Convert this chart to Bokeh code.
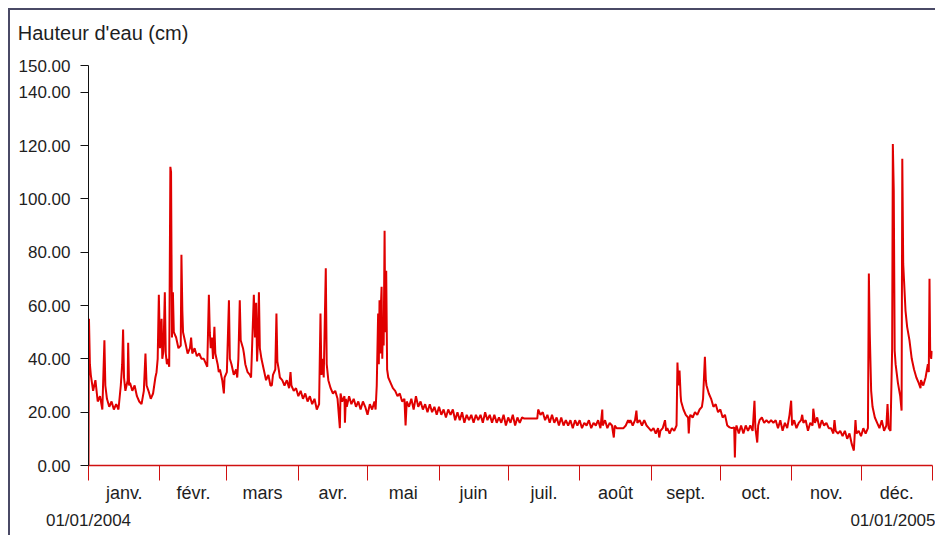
from bokeh.plotting import figure
from bokeh.models import FixedTicker, LinearAxis, Range1d, PrintfTickFormatter
from bokeh.embed import file_html
from bokeh.resources import INLINE

# ---- data (day of year 2004, water height in cm) ----
jan_day = [0, 0.2, 0.6, 1, 2, 3, 4, 5, 6, 6.9, 7.3, 8, 9, 10, 11, 12, 13, 14, 14.6, 15, 15.4, 16, 17, 17.2, 17.6,
           18, 19, 20, 21, 22, 23, 24, 24.7, 25.2, 26, 27, 28, 29, 29.5, 30]
jan_lvl = [0, 55, 38, 34, 28, 32, 24, 26, 21, 47, 30, 25, 22, 24, 21, 23, 21, 30, 38, 51, 33, 28, 32, 46, 30,
           31, 28, 30, 26, 24, 23, 28, 42, 30, 28, 25, 27, 33, 35, 40]

feb_day = [30.5, 31, 31.7, 32, 32.5, 33.1, 33.5, 34, 34.5, 35, 35.5, 35.8, 36.2, 36.6, 37, 38, 39, 40, 40.3, 40.7,
           41, 42, 43, 44, 44.5, 45, 46, 47, 48, 49, 50, 51, 51.5, 52.2, 52.6, 53, 53.5, 54, 54.6, 55,
           56, 56.5, 57, 58, 58.7, 59, 60]
feb_lvl = [64, 44, 55, 40, 43, 65, 42, 38, 40, 37, 112, 110, 48, 65, 50, 48, 44, 45, 79, 58,
           50, 46, 42, 44, 48, 42, 44, 41, 42, 40, 40, 38, 37, 64, 50, 44, 48, 40, 52, 42,
           38, 35, 36, 32, 27, 33, 35]

mar_day = [60.9, 61.3, 62, 63, 64, 64.5, 65, 65.6, 66, 67, 67.4, 68, 69, 70, 70.5, 71, 71.7, 72.2, 72.7, 73.1,
           73.5, 73.9, 74.3, 75, 76, 77, 78, 78.9, 79.5, 80, 81, 81.5, 81.9, 82.5, 83, 84, 85, 86, 87, 87.6,
           88, 89, 90, 91]
mar_lvl = [62, 40, 38, 34, 36, 33, 40, 62, 47, 44, 42, 38, 35, 34, 33, 46, 64, 48, 61, 39,
           47, 65, 44, 40, 36, 32, 34, 30, 30, 34, 36, 57, 39, 36, 33, 32, 30, 32, 29, 35,
           30, 28, 29, 26]

apr_day = [92, 93, 94, 95, 96, 97, 98, 99, 100, 100.6, 101, 101.5, 102, 102.9, 103.3, 104, 105, 106, 107, 108,
           109, 109.3, 110, 111, 111.2, 111.6, 112, 113, 114, 115, 116, 117, 118, 119, 120, 121]
apr_lvl = [28, 25, 27, 24, 26, 23, 25, 21, 23, 57, 34, 40, 33, 74, 38, 32, 29, 27, 28, 25,
           14, 27, 24, 26, 16, 25, 22, 26, 23, 25, 22, 24, 21, 24, 22, 19]

may_day = [122, 123, 124, 124.5, 125, 125.6, 125.9, 126.2, 126.5, 126.8, 127.1, 127.4, 127.7, 128, 128.4,
           128.7, 129.1, 129.5, 130, 131, 132, 133, 134, 135, 136, 137, 137.5]
may_lvl = [23, 21, 24, 21, 30, 57, 38, 62, 42, 60, 67, 40, 55, 45, 88,
           50, 73, 36, 33, 31, 29, 28, 26, 27, 24, 25, 15]

summer_day = [138, 139, 140, 141, 142, 143, 144, 145, 146, 147, 148, 149, 150, 151, 152, 153, 154, 155, 156, 157,
              158, 159, 160, 161, 162, 163, 164, 165, 166, 167, 168, 169, 170, 171, 172, 173, 174, 175, 176, 177,
              178, 179, 180, 181, 182, 183, 184, 185, 186, 187, 188, 189, 194.6]
summer_lvl = [24, 22, 25, 21, 26, 22, 24, 21, 23, 20, 23, 20, 22, 19, 22, 19, 21, 18, 21, 19,
              21, 17, 20, 17, 20, 16, 19, 17, 19, 16, 19, 17, 19, 16, 20, 17, 19, 16, 19, 16,
              18, 16, 19, 15, 18, 16, 19, 15, 18, 16, 18, 17.6, 17.6]

aug_day = [195, 196, 197, 198, 199, 200, 201, 202, 203, 204, 205, 206, 207, 208, 209, 210, 211, 212, 213, 214,
           215, 216, 217, 218, 219, 220, 221, 222, 222.8, 223, 224, 225, 226, 227, 227.8, 228.2, 229, 230, 231,
           232, 233, 234, 234.5, 235, 236, 237, 237.6, 238, 239, 240, 241, 242, 243, 244, 245, 246, 247, 247.5,
           248, 249, 250, 250.5, 251, 252, 253, 254, 255]
aug_lvl = [21, 19, 20, 17, 19, 16, 19, 16, 18, 15, 18, 15, 17, 15, 17, 14, 17, 15, 17, 14,
           16, 15, 17, 14, 16, 15, 17, 14, 21, 15, 17, 14, 16, 15, 10.5, 15, 14, 14, 14,
           14, 15, 17, 16, 17, 15, 17, 20.6, 16, 17, 15, 17, 15, 14, 13, 14, 12, 14, 10.5,
           13, 14, 17, 13, 14, 12, 14, 13, 15]

sep_day = [255.4, 255.8, 256.3, 256.8, 257, 258, 259, 260, 260.3, 260.7, 261, 262, 263, 264, 265, 266, 266.5,
           267.3, 267.7, 268, 269, 270, 271, 272, 273, 274, 275, 276, 277, 278, 279, 280, 280.3, 280.6, 281,
           282, 283, 284, 285, 286, 287, 288, 288.8, 289.2, 290, 290.4]
sep_lvl = [38.6, 30, 35.6, 26, 24, 21, 19, 18, 12, 18, 19, 18, 20, 19, 21, 22, 25,
           40.8, 32, 30, 27, 25, 22, 23, 20, 21, 18, 19, 15, 14.3, 14, 14.3, 3, 13, 15,
           12, 15, 12, 15, 13, 15, 13, 24.3, 14, 8.6, 15]

nov_day = [291, 292, 293, 294, 295, 296, 297, 298, 299, 300, 301, 302, 303, 304, 304.7, 305.1, 306, 307, 308,
           309, 309.5, 310, 311, 312, 313, 314, 314.3, 314.8, 315, 316, 317, 318, 319, 320, 321, 322, 323,
           323.5, 324, 325, 326, 327, 328, 329, 330, 331, 331.9, 332.6, 333, 334, 335, 336, 337, 338]
nov_lvl = [17, 18, 16, 17, 16, 17, 16, 17, 14, 17, 13, 16, 14, 19, 24.3, 15, 17, 14, 16,
           17, 19, 16, 17, 13, 16, 15, 21.3, 18, 16, 18, 14, 17, 15, 16, 14, 14, 12,
           17, 13, 12, 13, 11, 13, 10, 12, 8, 5.6, 17, 12, 13, 11, 14, 12, 14]

dec_day = [338.4, 338.8, 339.4, 340, 341, 342, 343, 344, 345, 346, 346.5, 347, 347.8, 348.5, 348.8, 349.2,
           349.6, 350, 351, 352, 352.6, 352.9, 353.3, 354.3, 355, 356, 357, 358, 359, 360, 360.8, 361, 362,
           363, 364, 364.4, 364.7, 365, 365.5, 365.9]
dec_lvl = [72, 49.5, 28, 22, 18, 16, 14, 17, 13, 15, 23, 14, 13, 44, 120.6, 103,
           43, 38, 31, 26, 20.6, 115, 75.6, 58, 52, 47, 40, 36, 33, 31, 29, 32, 30,
           33, 38, 35, 70, 42, 40, 43]

month_bounds = [0, 31, 60, 91, 121, 152, 182, 213, 244, 274, 305, 335, 366]
month_names = ["janv.", "févr.", "mars", "avr.", "mai", "juin", "juil.", "août", "sept.", "oct.", "nov.", "déc."]
y_ticks = [0, 20, 40, 60, 80, 100, 120, 140, 150]
start_label = "01/01/2004"
end_label = "01/01/2005"
title_text = "Hauteur d'eau (cm)"

day = jan_day + feb_day + mar_day + apr_day + may_day + summer_day + aug_day + sep_day + nov_day + dec_day
level = jan_lvl + feb_lvl + mar_lvl + apr_lvl + may_lvl + summer_lvl + aug_lvl + sep_lvl + nov_lvl + dec_lvl
assert len(day) == len(level)

FONT = "Liberation Sans"
TXT = "#1e1e1e"

p = figure(width=927, height=527, output_backend="svg", toolbar_location=None,
           x_range=Range1d(month_bounds[0], month_bounds[-1]), y_range=Range1d(0, 150),
           x_axis_location=None, y_axis_location=None,
           min_border_left=78, min_border_right=5, min_border_top=55, min_border_bottom=72)
p.outline_line_color = None
p.background_fill_color = "white"
p.border_fill_color = "white"
p.grid.grid_line_color = None
p.styles = {"margin-left": "8px", "margin-top": "8px",
            "border-top": "2px solid #4a4a66", "border-left": "2px solid #4a4a66"}

# title, drawn as the single label of a bare axis above the frame (kept inside the canvas)
head = LinearAxis(ticker=FixedTicker(ticks=[month_bounds[0]]))
head.major_label_overrides = {month_bounds[0]: title_text}
head.major_tick_out = 0
head.major_tick_in = 0
head.minor_tick_out = 0
head.minor_tick_in = 0
head.axis_line_color = None
head.major_label_standoff = 22
head.major_label_text_font = FONT
head.major_label_text_font_size = "20px"
head.major_label_text_color = TXT
p.add_layout(head, "above")

# x axis: month boundary ticks (minor) and centred month names (major, no tick)
mids = [(a + b) / 2 for a, b in zip(month_bounds[:-1], month_bounds[1:])]
xaxis = LinearAxis(ticker=FixedTicker(ticks=mids, minor_ticks=month_bounds))
xaxis.major_label_overrides = {m: n for m, n in zip(mids, month_names)}
xaxis.major_tick_out = 0
xaxis.major_tick_in = 0
xaxis.minor_tick_out = 15
xaxis.minor_tick_in = 0
xaxis.minor_tick_line_color = "#d01010"
xaxis.axis_line_color = "#d01010"
xaxis.axis_line_width = 1.5
xaxis.major_label_standoff = 2
xaxis.major_label_text_font = FONT
xaxis.major_label_text_font_size = "18px"
xaxis.major_label_text_color = TXT
p.add_layout(xaxis, "below")

# second row of x labels: first and last dates
dates = LinearAxis(ticker=FixedTicker(ticks=[month_bounds[0], month_bounds[-1]]))
dates.major_label_overrides = {month_bounds[0]: start_label, month_bounds[-1]: end_label}
dates.major_tick_out = 0
dates.major_tick_in = 0
dates.minor_tick_out = 0
dates.minor_tick_in = 0
dates.axis_line_color = None
dates.major_label_standoff = 5
dates.major_label_text_font = FONT
dates.major_label_text_font_size = "17px"
dates.major_label_text_color = TXT
p.add_layout(dates, "below")

yaxis = LinearAxis(ticker=FixedTicker(ticks=y_ticks), formatter=PrintfTickFormatter(format="%.2f"))
yaxis.major_tick_out = 8
yaxis.major_tick_in = 0
yaxis.minor_tick_out = 0
yaxis.minor_tick_in = 0
yaxis.axis_line_color = "#111111"
yaxis.major_tick_line_color = "#111111"
yaxis.major_label_standoff = 10
yaxis.major_label_text_font = FONT
yaxis.major_label_text_font_size = "17px"
yaxis.major_label_text_color = TXT
p.add_layout(yaxis, "left")

p.line(day, level, line_color="#e00000", line_width=2.0)

open("out.html", "w").write(file_html(p, INLINE))
